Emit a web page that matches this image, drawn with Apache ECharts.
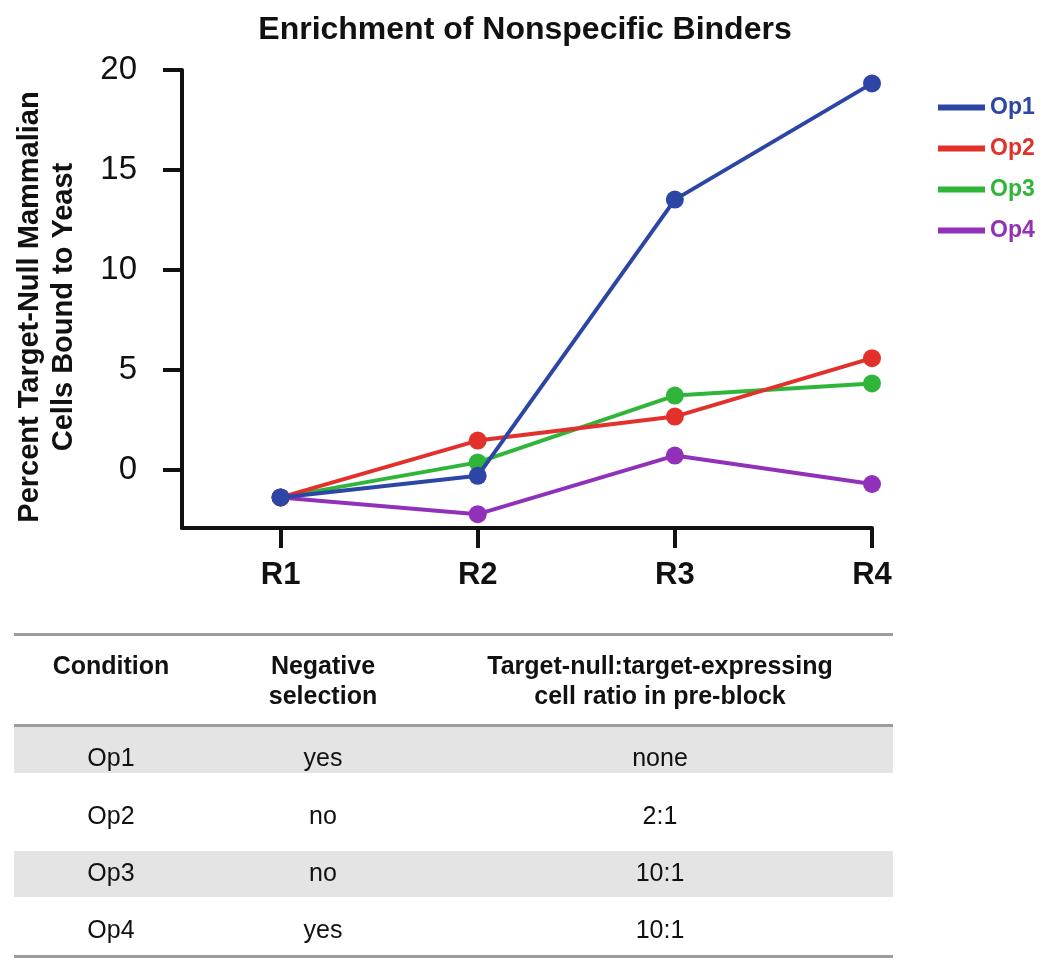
<!DOCTYPE html>
<html>
<head>
<meta charset="utf-8">
<script src="https://cdn.jsdelivr.net/npm/echarts@6/dist/echarts.min.js"></script>
<style>
    body {
        margin: 0;
        background: #fff;
        font-family: "Liberation Sans", Arial, sans-serif;
    }

    #chart {
        position: absolute;
        left: 0;
        top: 0;
        width: 1050px;
        height: 968px;
    }

    #table {
        position: absolute;
        left: 0;
        top: 0;
        width: 1050px;
        height: 968px;
        color: #111;
    }

    .hline {
        position: absolute;
        left: 14px;
        width: 879px;
        height: 3px;
        background: #9c9c9c;
    }

    .band {
        position: absolute;
        left: 14px;
        width: 879px;
        background: #e4e4e4;
    }

    .cell {
        position: absolute;
        width: 400px;
        margin-left: -200px;
        text-align: center;
        font-size: 25px;
        line-height: 30px;
        white-space: pre;
    }

    .head {
        font-weight: bold;
    }
</style>
</head>
<body>
<div id="chart"></div>
<div id="table"></div>
<script>
// 图表数据
const categories = ['R1', 'R2', 'R3', 'R4'];
const op1 = [-1.37, -0.29, 13.52, 19.33];
const op2 = [-1.37, 1.47, 2.67, 5.59];
const op3 = [-1.37, 0.38, 3.72, 4.33];
const op4 = [-1.37, -2.21, 0.72, -0.70];
const yTicks = [0, 5, 10, 15, 20];

// 表格数据
const tableHeader = ['Condition', 'Negative\nselection', 'Target-null:target-expressing\ncell ratio in pre-block'];
const conditions = ['Op1', 'Op2', 'Op3', 'Op4'];
const negativeSelection = ['yes', 'no', 'no', 'yes'];
const preBlockRatio = ['none', '2:1', '10:1', '10:1'];

const seriesNames = ['Op1', 'Op2', 'Op3', 'Op4'];
const seriesValues = [op1, op2, op3, op4];
const colors = ['#2d46a6', '#e2312b', '#2fb539', '#9131b9'];
const xPos = categories.map((c, i) => i + 1);

const font = '"Liberation Sans", Arial, sans-serif';
const mycharts = echarts.init(document.getElementById('chart'));

mycharts.setOption({
    animation: false,
    title: {
        text: 'Enrichment of Nonspecific Binders',
        left: 'center',
        top: 9,
        textStyle: {
            fontFamily: font,
            fontSize: 32,
            fontWeight: 'bold',
            color: '#111'
        }
    },
    legend: {
        orient: 'vertical',
        left: 933,
        top: 91,
        icon: 'rect',
        itemWidth: 47,
        itemHeight: 6,
        itemGap: 18,
        data: seriesNames.map((n, i) => ({
            name: n,
            textStyle: {
                color: colors[i]
            }
        })),
        textStyle: {
            fontFamily: font,
            fontSize: 23,
            fontWeight: 'bold'
        }
    },
    grid: {
        left: 182,
        right: 178,
        top: 70,
        bottom: 440,
        outerBoundsMode: 'none'
    },
    xAxis: {
        type: 'value',
        min: 0.5,
        max: 4,
        splitLine: { show: false },
        axisLine: {
            show: true,
            onZero: false,
            lineStyle: { color: '#111', width: 4 }
        },
        axisTick: {
            show: true,
            customValues: xPos,
            length: 20,
            lineStyle: { color: '#111', width: 4 }
        },
        axisLabel: {
            customValues: xPos,
            formatter: (v) => categories[v - 1],
            margin: 32,
            fontFamily: font,
            fontSize: 31,
            fontWeight: 'bold',
            color: '#111'
        }
    },
    yAxis: {
        type: 'value',
        min: -2.9,
        max: 20,
        name: 'Percent Target-Null Mammalian\nCells Bound to Yeast',
        nameLocation: 'middle',
        nameRotate: 90,
        nameGap: 101,
        nameTextStyle: {
            fontFamily: font,
            fontSize: 29,
            fontWeight: 'bold',
            color: '#111',
            lineHeight: 34,
            padding: [0, 16, 0, 0]
        },
        splitLine: { show: false },
        axisLine: {
            show: true,
            onZero: false,
            lineStyle: { color: '#111', width: 4 }
        },
        axisTick: {
            show: true,
            customValues: yTicks,
            length: 19,
            lineStyle: { color: '#111', width: 4 }
        },
        axisLabel: {
            customValues: yTicks,
            margin: 45,
            fontFamily: font,
            fontSize: 33,
            color: '#111'
        }
    },
    series: seriesNames.map((n, i) => ({
        name: n,
        type: 'line',
        z: 10 - i,
        symbol: 'circle',
        symbolSize: 18,
        color: colors[i],
        lineStyle: { width: 4 },
        data: seriesValues[i].map((v, j) => [xPos[j], v])
    }))
});

// 下方表格
const table = document.getElementById('table');
const colCenters = [111, 323, 660];

function addDiv(cls, style, text) {
    const d = document.createElement('div');
    d.className = cls;
    Object.assign(d.style, style);
    if (text !== undefined) d.textContent = text;
    table.appendChild(d);
}

// 灰色底纹行
addDiv('band', { top: '726px', height: '47px' });
addDiv('band', { top: '851px', height: '46px' });
// 分隔线
addDiv('hline', { top: '633px' });
addDiv('hline', { top: '724px' });
addDiv('hline', { top: '955px' });

tableHeader.forEach((h, i) => {
    addDiv('cell head', { left: colCenters[i] + 'px', top: '650px' }, h);
});

const rowCenters = [757, 815, 872, 929];
conditions.forEach((c, r) => {
    const cols = [c, negativeSelection[r], preBlockRatio[r]];
    cols.forEach((t, i) => {
        addDiv('cell', { left: colCenters[i] + 'px', top: (rowCenters[r] - 15) + 'px' }, t);
    });
});
</script>
</body>
</html>
